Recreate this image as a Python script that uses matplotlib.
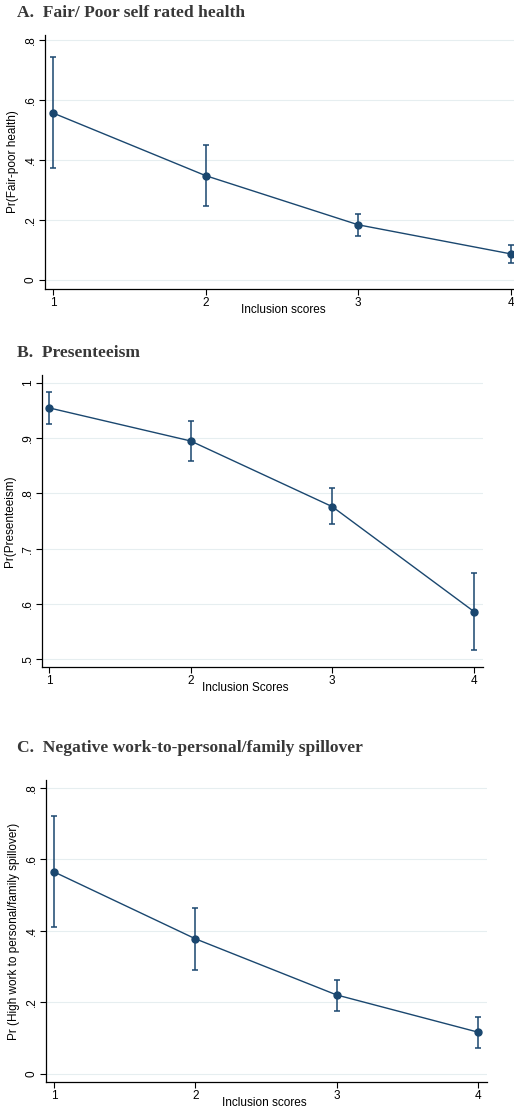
import numpy as np
import matplotlib
matplotlib.use('Agg')
import matplotlib.pyplot as plt

plt.rcParams['font.family'] = ['Liberation Sans', 'DejaVu Sans']

W, H = 514, 1117

# data
scores = [1, 2, 3, 4]

fair_est = [0.557, 0.348, 0.184, 0.087]
fair_lo = [0.373, 0.247, 0.147, 0.057]
fair_hi = [0.744, 0.449, 0.220, 0.117]

pres_est = [0.955, 0.895, 0.776, 0.586]
pres_lo = [0.926, 0.859, 0.744, 0.516]
pres_hi = [0.984, 0.932, 0.809, 0.656]

spill_est = [0.565, 0.378, 0.221, 0.117]
spill_lo = [0.411, 0.291, 0.176, 0.073]
spill_hi = [0.722, 0.464, 0.263, 0.159]

yt_a = [0, 0.2, 0.4, 0.6, 0.8]
yl_a = ['0', '.2', '.4', '.6', '.8']
yt_b = [0.5, 0.6, 0.7, 0.8, 0.9, 1.0]
yl_b = ['.5', '.6', '.7', '.8', '.9', '1']

navy = '#1a476f'
grid = '#e6eef0'

fig = plt.figure(figsize=(W / 100, H / 100), dpi=100)


def panel(box, xlim, ylim, est, lo, hi, yt, yl, ylab, xlab, xlab_x, title, title_y):
    # box = (left, top, right, bottom) in pixels
    l, t, r, b = box
    ax = fig.add_axes([l / W, 1 - b / H, (r - l) / W, (b - t) / H])
    est = np.array(est)
    err = [est - np.array(lo), np.array(hi) - est]
    ax.errorbar(scores, est, yerr=err, color=navy, lw=1.0, marker='o', ms=5,
                capsize=2.5, elinewidth=1.1, capthick=1.1)
    ax.set_xlim(*xlim)
    ax.set_ylim(*ylim)
    ax.set_xticks(scores)
    ax.set_xticklabels([str(s) for s in scores], fontsize=8.5)
    ax.set_yticks(yt)
    ax.set_yticklabels(yl, fontsize=8.5, rotation=90, va='center')
    for y in yt:
        ax.axhline(y, color=grid, lw=0.8, zorder=0)
    for s in ['top', 'right']:
        ax.spines[s].set_visible(False)
    ax.spines['left'].set_linewidth(0.9)
    ax.spines['bottom'].set_linewidth(0.9)
    ax.tick_params(length=4, width=0.8, pad=2)
    ax.set_ylabel(ylab, fontsize=8.5, labelpad=4)
    fig.text(xlab_x / W, 1 - (b + 21) / H, xlab, fontsize=8.5, ha='center', va='center')
    fig.text(17 / W, 1 - title_y / H, title, fontsize=12.6, fontweight='bold',
             family='Liberation Serif', color='#383838', va='center')
    return ax


panel((45, 35, 514, 289), (0.948, 4.02), (-0.03, 0.817),
      fair_est, fair_lo, fair_hi, yt_a, yl_a,
      'Pr(Fair-poor health)', 'Inclusion scores', 283,
      'A.  Fair/ Poor self rated health', 13)

panel((42, 375, 483, 667), (0.951, 4.064), (0.4855, 1.0145),
      pres_est, pres_lo, pres_hi, yt_b, yl_b,
      'Pr(Presenteeism)', 'Inclusion Scores', 245,
      'B.  Presenteeism', 353)

panel((46, 780, 487, 1082), (0.943, 4.064), (-0.0224, 0.822),
      spill_est, spill_lo, spill_hi, yt_a, yl_a,
      'Pr (High work to personal/family spillover)', 'Inclusion scores', 264,
      'C.  Negative work-to-personal/family spillover', 748)

fig.savefig('out.png', dpi=100)
